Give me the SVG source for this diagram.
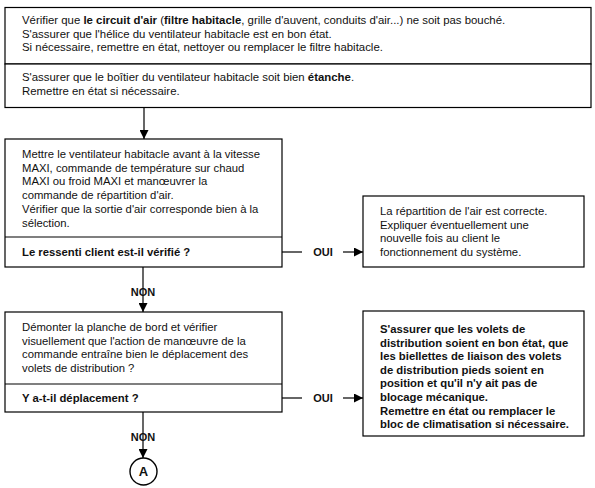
<svg xmlns="http://www.w3.org/2000/svg" width="595" height="488" viewBox="0 0 595 488">
<style>
.box{fill:#fff;stroke:#000;stroke-width:1.2}
.ln{stroke:#000;stroke-width:1.2;fill:none}
.t{font-family:"Liberation Sans",Arial,sans-serif;font-size:11.3px;fill:#111}
.tt{font-family:"Liberation Sans",Arial,sans-serif;font-size:11.4px;fill:#111}
.b{font-weight:bold}
.lbl{font-family:"Liberation Sans",Arial,sans-serif;font-size:11px;font-weight:bold;fill:#111;text-anchor:middle}
</style>
<defs>
<marker id="ah" viewBox="0 0 10 10" refX="10" refY="5" markerWidth="9" markerHeight="9" markerUnits="userSpaceOnUse" orient="auto">
<path d="M0,0 L10,5 L0,10 z" fill="#000"/>
</marker>
</defs>
<g id="connectors">
<line class="ln" x1="144" y1="108" x2="144" y2="139" marker-end="url(#ah)"/>
<line class="ln" x1="282" y1="252" x2="302" y2="252"/>
<line class="ln" x1="343" y1="252" x2="363" y2="252" marker-end="url(#ah)"/>
<line class="ln" x1="143" y1="267" x2="143" y2="312" marker-end="url(#ah)"/>
<line class="ln" x1="282" y1="398" x2="302" y2="398"/>
<line class="ln" x1="343" y1="398" x2="363" y2="398" marker-end="url(#ah)"/>
<line class="ln" x1="143" y1="412" x2="143" y2="458" marker-end="url(#ah)"/>
<text class="lbl" x="323" y="256">OUI</text>
<text class="lbl" x="323" y="402">OUI</text>
<text class="lbl" x="143" y="296">NON</text>
<text class="lbl" x="143" y="441">NON</text>
</g>
<g id="n1">
<rect class="box" x="5" y="7.5" width="586" height="56.5"/>
<text class="tt" x="22" y="24">Vérifier que <tspan class="b">le circuit d'air</tspan> (<tspan class="b">filtre habitacle</tspan>, grille d'auvent, conduits d'air...) ne soit pas bouché.</text>
<text class="tt" x="22" y="37.5">S'assurer que l'hélice du ventilateur habitacle est en bon état.</text>
<text class="tt" x="22" y="51">Si nécessaire, remettre en état, nettoyer ou remplacer le filtre habitacle.</text>
</g>
<g id="n2">
<rect class="box" x="5" y="64" width="586" height="43.5"/>
<text class="tt" x="22" y="81">S'assurer que le boîtier du ventilateur habitacle soit bien <tspan class="b">étanche</tspan>.</text>
<text class="tt" x="22" y="95">Remettre en état si nécessaire.</text>
</g>
<g id="n3">
<rect class="box" x="5" y="139" width="277" height="128"/>
<line class="ln" x1="5" y1="237" x2="282" y2="237"/>
<text class="t" x="22" y="158">Mettre le ventilateur habitacle avant à la vitesse</text>
<text class="t" x="22" y="171.7">MAXI, commande de température sur chaud</text>
<text class="t" x="22" y="185.4">MAXI ou froid MAXI et manœuvrer la</text>
<text class="t" x="22" y="199">commande de répartition d'air.</text>
<text class="t" x="22" y="212.8">Vérifier que la sortie d'air corresponde bien à la</text>
<text class="t" x="22" y="226.5">sélection.</text>
<text class="t b" x="22" y="256">Le ressenti client est-il vérifié ?</text>
</g>
<g id="n4">
<rect class="box" x="363" y="196" width="221" height="71"/>
<text class="t" x="380" y="215">La répartition de l'air est correcte.</text>
<text class="t" x="380" y="228.7">Expliquer éventuellement une</text>
<text class="t" x="380" y="242.4">nouvelle fois au client le</text>
<text class="t" x="380" y="256">fonctionnement du système.</text>
</g>
<g id="n5">
<rect class="box" x="5" y="312" width="277" height="100"/>
<line class="ln" x1="5" y1="384" x2="282" y2="384"/>
<text class="t" x="22" y="331">Démonter la planche de bord et vérifier</text>
<text class="t" x="22" y="344.7">visuellement que l'action de manœuvre de la</text>
<text class="t" x="22" y="358.4">commande entraîne bien le déplacement des</text>
<text class="t" x="22" y="372">volets de distribution ?</text>
<text class="t b" x="22" y="402">Y a-t-il déplacement ?</text>
</g>
<g id="n6">
<rect class="box" x="363" y="311" width="221" height="125"/>
<text class="t b" x="380" y="333">S'assurer que les volets de</text>
<text class="t b" x="380" y="346.6">distribution soient en bon état, que</text>
<text class="t b" x="380" y="360.2">les biellettes de liaison des volets</text>
<text class="t b" x="380" y="373.8">de distribution pieds soient en</text>
<text class="t b" x="380" y="387.4">position et qu'il n'y ait pas de</text>
<text class="t b" x="380" y="401">blocage mécanique.</text>
<text class="t b" x="380" y="414.6">Remettre en état ou remplacer le</text>
<text class="t b" x="380" y="428.2">bloc de climatisation si nécessaire.</text>
</g>
<g id="nA">
<circle cx="143.5" cy="471.5" r="13.5" fill="#fff" stroke="#000" stroke-width="1.4"/>
<text class="lbl" x="143.5" y="476" style="font-size:13px">A</text>
</g>
</svg>
